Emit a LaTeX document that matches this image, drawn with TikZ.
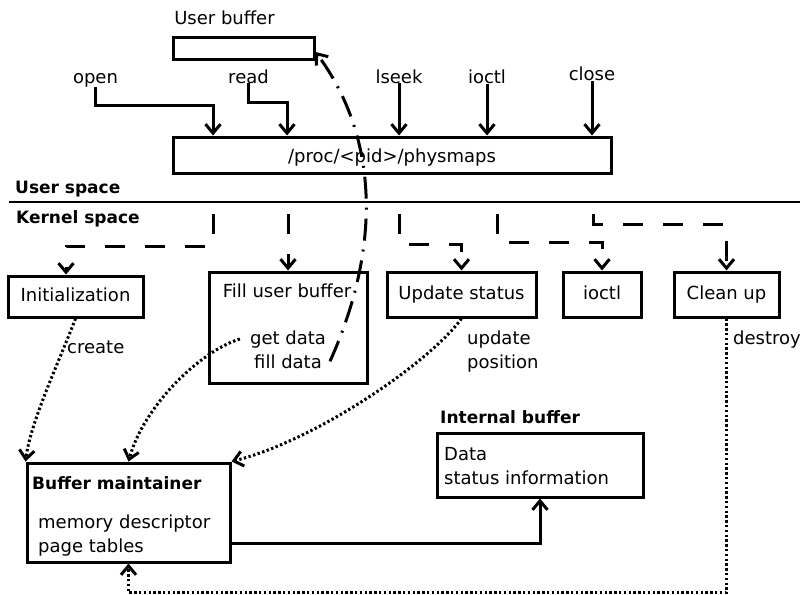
\documentclass[tikz,border=0pt]{standalone}
\usepackage{fontspec}
\setmainfont{DejaVu Sans}
\usetikzlibrary{arrows.meta}
\begin{document}
\begin{tikzpicture}[x=1pt,y=-1pt,
		box/.style={draw, line width=3pt, inner sep=0pt, font=\fontsize{18}{24}\selectfont, text height=13pt, text depth=4pt},
		txt/.style={font=\fontsize{18}{24}\selectfont, inner sep=0pt},
		hdr/.style={font=\fontsize{17}{20}\selectfont\bfseries, inner sep=0pt},
		call/.style={line width=3pt, -{Straight Barb[length=9pt,width=15pt]}},
		dispatch/.style={call, dash pattern=on 20pt off 20pt},
		uses/.style={call, dash pattern=on 2.4pt off 2.4pt},
		copyline/.style={call, dash pattern=on 22pt off 9pt on 2pt off 9pt}]
		\useasboundingbox (0,0) rectangle (800,594);
		%\draw[help lines, step=50] (0,0) grid (800,594);
		
		% user space
		\node[txt, anchor=base] (ubuflbl) at (224.5,25) {User buffer};
		\node[box, minimum width=141pt, minimum height=22pt] (ubuf) at (243.5,49) {};
		\node[txt, anchor=base] (open) at (95.5,83) {open};
		\node[txt, anchor=base] (read) at (248.5,83) {read};
		\node[txt, anchor=base] (lseek) at (399,83) {lseek};
		\node[txt, anchor=base] (ioctl) at (487,84) {ioctl};
		\node[txt, anchor=base] (close) at (592,81) {close};
		\node[box, text height=19pt, minimum width=438pt, minimum height=36pt] (phys) at (392,155) {/proc/<pid>/physmaps};
		
		\draw[call] (open.south) -- ++(0,19) -| ([xshift=-179pt]phys.north);
		\draw[call] (read.south) -- ++(0,19) -| ([xshift=-105pt]phys.north);
		\draw[call] (lseek.south) -- (lseek.south |- phys.north);
		\draw[call] (ioctl.south) -- (ioctl.south |- phys.north);
		\draw[call] (close.south) -- (close.south |- phys.north);
		
		\node[hdr, anchor=base west] (uspace) at (15,193) {User space};
		\draw[line width=2.2pt] (9,202) -- (800,202);
		\node[hdr, anchor=base west] (kspace) at (16,223) {Kernel space};
		
		% kernel space
		\node[box, minimum width=135pt, minimum height=41pt] (init) at (75.5,296.5) {Initialization};
		\node[box, minimum width=158pt, minimum height=111pt] (fill) at (288,327.5) {};
		\node[txt, anchor=base] (fub) at (287,297) {Fill user buffer};
		\node[txt, anchor=base] (gd) at (288,344) {get data};
		\node[txt, anchor=base] (fd) at (288,368) {fill data};
		\node[box, minimum width=149pt, minimum height=45pt] (upd) at (461.5,294.5) {Update status};
		\node[box, minimum width=78pt, minimum height=45pt] (ioctlbox) at (602,294.5) {ioctl};
		\node[box, minimum width=105pt, minimum height=45pt] (clean) at (726.5,294.5) {Clean up};
		
		\coordinate (kopen) at (213,214);
		\coordinate (kread) at (288,214);
		\coordinate (klseek) at (399,214);
		\coordinate (kioctl) at (497,214);
		\coordinate (kclose) at (593,214);
		\draw[dispatch] (kopen) -- ++(0,32) -| ([xshift=-9.5pt]init.north);
		\draw[dispatch] (kread) -- (fill.north);
		\draw[dispatch] (klseek) -- ++(0,30) -| (upd.north);
		\draw[dispatch] (kioctl) -- ++(0,28) -| (ioctlbox.north);
		\draw[dispatch] (kclose) -- ++(0,10) -| (clean.north);
		
		\node[box, minimum width=203pt, minimum height=99pt] (bm) at (128.5,512.5) {};
		\node[hdr, anchor=base west] (bmlbl) at (32,489) {Buffer maintainer};
		\node[txt, anchor=base west] (md) at (38,528) {memory descriptor};
		\node[txt, anchor=base west] (pt) at (38,552) {page tables};
		
		\node[hdr, anchor=base west] (iblbl) at (440,423) {Internal buffer};
		\node[box, minimum width=206pt, minimum height=64pt] (ib) at (540,465) {};
		\node[txt, anchor=base west] (data) at (444,460) {Data};
		\node[txt, anchor=base west] (sinfo) at (444,484) {status information};
		
		\node[txt, anchor=base west] (create) at (67,353) {create};
		\node[txt, anchor=base west] (updl) at (467,344) {update};
		\node[txt, anchor=base west] (posl) at (467,368) {position};
		\node[txt, anchor=base west] (destroy) at (733,344) {destroy};
		
		\draw[uses] (init.south) .. controls +(-15,40) and +(5,-40) .. (bm.north west);
		\draw[uses] ([xshift=-10pt]gd.west) .. controls +(-40,12) and +(15,-55) .. (bm.north);
		\draw[uses] (upd.south) .. controls +(-30,42) and +(87,-22) .. (bm.north east);
		\draw[uses] (clean.south) -- ++(0,274) -| (bm.south);
		\draw[call] ([yshift=-30.5pt]bm.east) -| (ib.south);
		
		\draw[copyline] ([xshift=8pt]fd.east) .. controls +(50,-111) and +(65,88) .. ([yshift=-3pt]ubuf.east);
\end{tikzpicture}
\end{document}
